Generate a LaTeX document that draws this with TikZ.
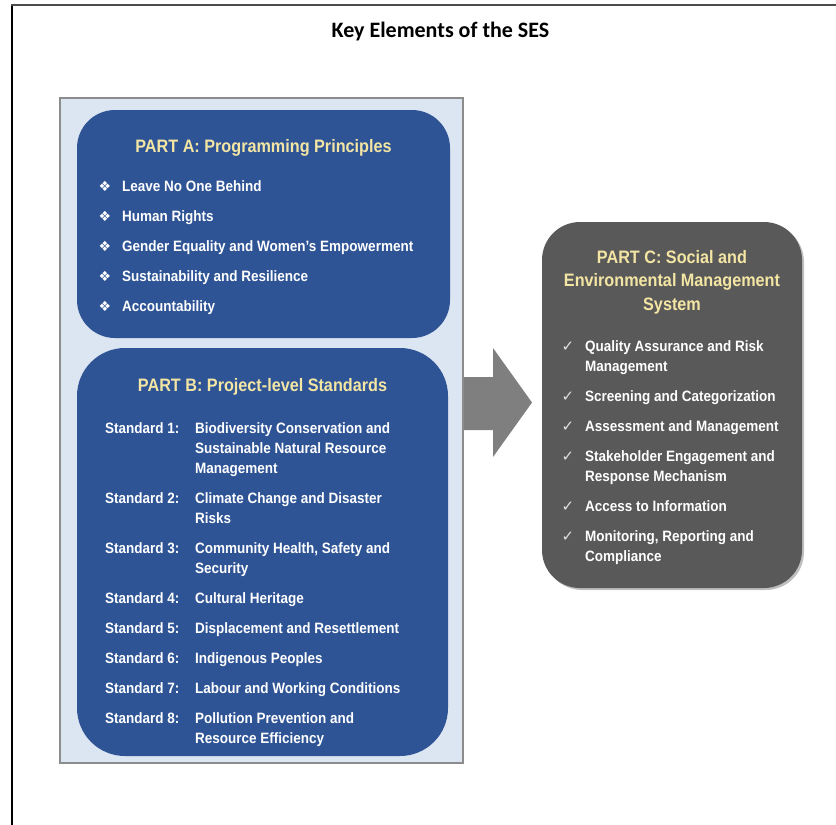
\documentclass[tikz,border=0pt]{standalone}
\usepackage{fontspec}
\setmainfont{Liberation Sans}
\newfontfamily\narrowfont[FakeStretch=0.9]{Liberation Sans}
\newfontfamily\titlefont{Carlito}
\newfontfamily\symfont{DejaVu Sans}
\definecolor{panelfill}{HTML}{DCE6F2}
\definecolor{panelline}{HTML}{8C8C8C}
\definecolor{bluebox}{HTML}{2E5496}
\definecolor{goldtext}{HTML}{F3E5A3}
\definecolor{darkbox}{HTML}{595959}
\definecolor{arrowgray}{HTML}{7F7F7F}
\begin{document}
\begin{tikzpicture}[x=1pt,y=-1pt,
  box/.style={draw=none, inner sep=0pt, outer sep=0pt},
  headA/.style={anchor=base, inner sep=0pt, text=goldtext, font=\narrowfont\bfseries\fontsize{18}{22}\selectfont},
  item/.style={anchor=base west, inner sep=0pt, text=white, font=\narrowfont\bfseries\fontsize{15}{18}\selectfont},
  bul/.style={anchor=base, inner sep=0pt, text=white, font=\symfont\fontsize{14}{16}\selectfont},
  chk/.style={anchor=base, inner sep=0pt, text=white!88!black, font=\symfont\fontsize{15}{17}\selectfont}]
\useasboundingbox (0,0) rectangle (836,825);
% outer frame (cut off at right and bottom)
\draw[black, line width=1.5pt] (12,825) -- (12,4.5);
\draw[black!70, line width=2pt] (11.25,4.5) -- (836,4.5);
\node[anchor=base, inner sep=0pt, font=\titlefont\bfseries\fontsize{22}{26}\selectfont] (title) at (440.5,37) {Key Elements of the SES};
% arrow
\fill[arrowgray] (455,377) -- (493,377) -- (493,348) -- (532,402.5) -- (493,457) -- (493,430) -- (455,430) -- cycle;
% left panel
\node[box, draw=panelline, line width=1.5pt, fill=panelfill, minimum width=403, minimum height=665] (panel) at (261.5,430.5) {};
% Part A
\node[box, fill=bluebox, rounded corners=38pt, minimum width=373, minimum height=228] (partA) at (263.5,224) {};
\node[headA] (headA) at (263.5,152) {PART A: Programming Principles};
\foreach \y/\t [count=\i] in {191.5/Leave No One Behind, 221.5/Human Rights, 251.5/Gender Equality and Women’s Empowerment, 281.5/Sustainability and Resilience, 311.5/Accountability}{
  \node[bul] (ba\i) at (105,\y-0.5) {❖};
  \node[item] (ia\i) at (122,\y) {\t};
}
% Part B
\node[box, fill=bluebox, rounded corners=48pt, minimum width=371, minimum height=408] (partB) at (262.5,552) {};
\node[headA] (headB) at (262.5,391.5) {PART B: Project-level Standards};
\foreach \y/\n/\t in {433.5/1/Biodiversity Conservation and, 503.5/2/Climate Change and Disaster, 553.5/3/{Community Health, Safety and}, 603.5/4/Cultural Heritage, 633.5/5/Displacement and Resettlement, 663.5/6/Indigenous Peoples, 693.5/7/Labour and Working Conditions, 723.5/8/Pollution Prevention and}{
  \node[item] (sl\n) at (105,\y) {Standard \n:};
  \node[item] (sd\n) at (195,\y) {\t};
}
\node[item] (sd1b) at (195,453.5) {Sustainable Natural Resource};
\node[item] (sd1c) at (195,473) {Management};
\node[item] (sd2b) at (195,523) {Risks};
\node[item] (sd3b) at (195,573) {Security};
\node[item] (sd8b) at (195,743) {Resource Efficiency};
% Part C
\node[box, fill=black!25, rounded corners=38pt, minimum width=260, minimum height=366] (partCshadow) at (674,407) {};
\node[box, fill=darkbox, rounded corners=38pt, minimum width=260, minimum height=366] (partC) at (672,405) {};
\node[headA] (headC1) at (672,263) {PART C: Social and};
\node[headA] (headC2) at (672,286.5) {Environmental Management};
\node[headA] (headC3) at (672,310) {System};
\foreach \y/\t [count=\i] in {351.7/Quality Assurance and Risk, 401.7/Screening and Categorization, 431.7/Assessment and Management, 461.7/Stakeholder Engagement and, 511.7/Access to Information, 541.7/{Monitoring, Reporting and}}{
  \node[chk] (cc\i) at (568,\y) {✓};
  \node[item] (ic\i) at (585,\y) {\t};
}
\node[item] (ic1b) at (585,371) {Management};
\node[item] (ic4b) at (585,481.7) {Response Mechanism};
\node[item] (ic6b) at (585,561.7) {Compliance};
\end{tikzpicture}
\end{document}
